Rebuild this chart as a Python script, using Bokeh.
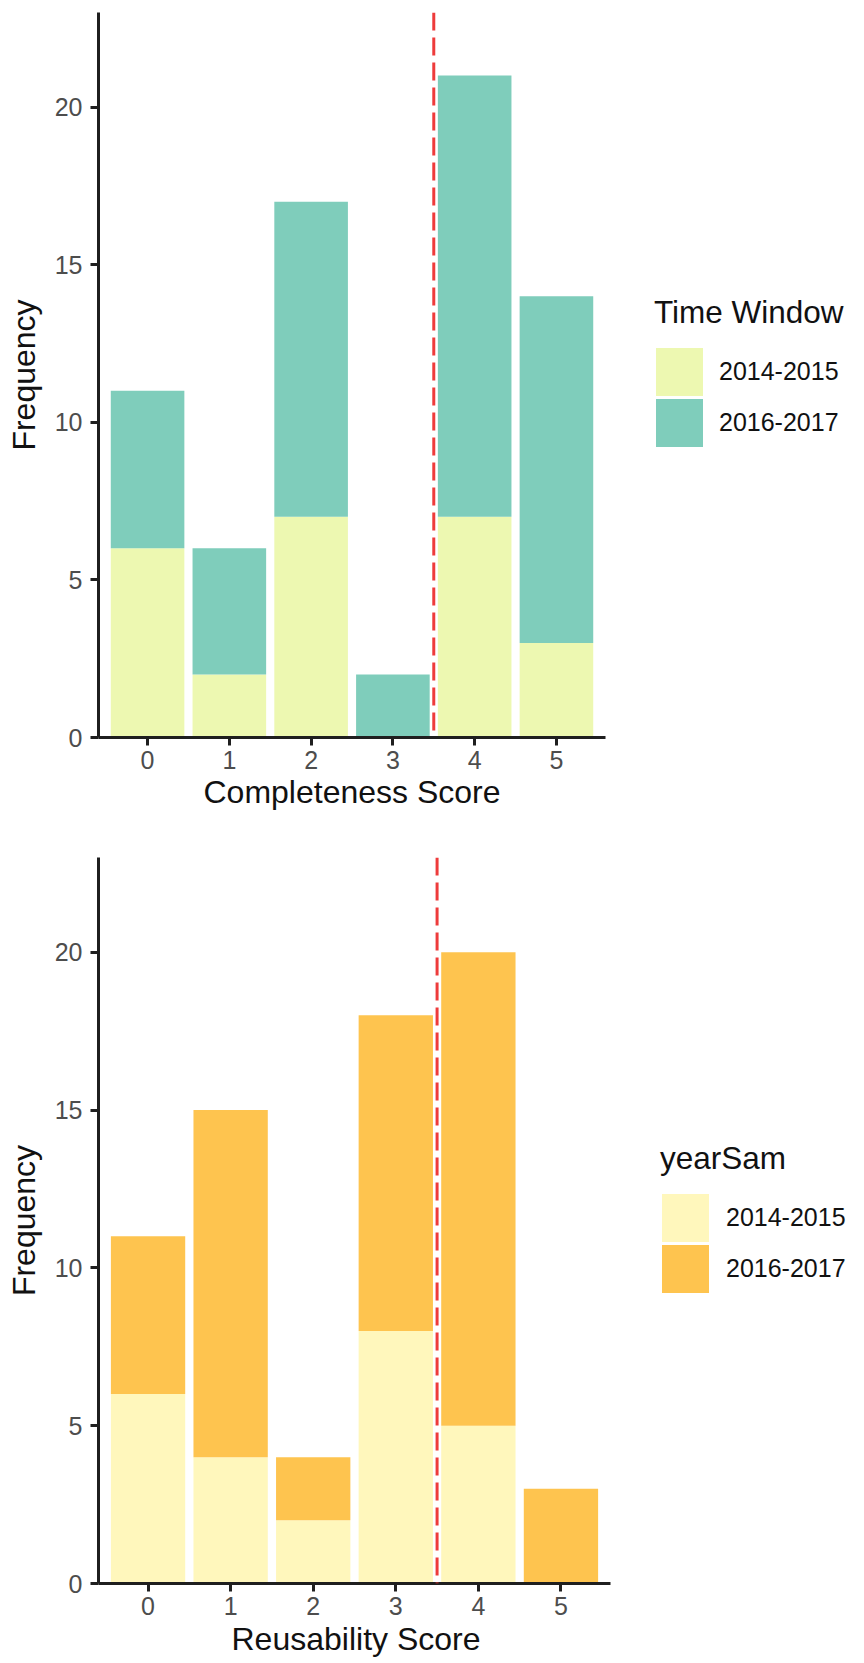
import numpy as np
from bokeh.plotting import figure
from bokeh.models import (Span, Legend, LegendItem, FixedTicker, Range1d,
                          ColumnDataSource, Title)
from bokeh.layouts import column
from bokeh.embed import file_html
from bokeh.resources import INLINE

# Scores on the x axis and the two sampling windows
scores = [0, 1, 2, 3, 4, 5]
periods = ["2014-2015", "2016-2017"]

# Completeness score counts per window
completeness_2014_2015 = [6, 2, 7, 0, 7, 3]
completeness_2016_2017 = [5, 4, 10, 2, 14, 11]

# Reusability score counts per window
reusability_2014_2015 = [6, 4, 2, 8, 5, 0]
reusability_2016_2017 = [5, 11, 2, 10, 15, 3]

y_ticks = [0, 5, 10, 15, 20]
threshold = 3.5

FONT = "Liberation Sans"
AXIS_COLOR = "#1f1f1f"
TEXT_COLOR = "#111111"
X_LO, X_HI = -0.6, 5.6   # discrete-axis padding around the six scores


def score_panel(early, late, colors, x_title, title_offset, title_standoff,
                legend_title, height, border_top, border_bottom, axis_px,
                legend_xy, label_gap):
    # the plotting area runs to the page edge so the legend can sit inside it;
    # the x axis itself is bounded to the score range
    frame_w = 864 - 98
    x_end = X_LO + frame_w * (X_HI - X_LO) / axis_px
    p = figure(width=864, height=height, output_backend="svg", toolbar_location=None,
               x_range=Range1d(X_LO, x_end), y_range=Range1d(0, 23),
               min_border_left=98, min_border_right=0,
               min_border_top=border_top, min_border_bottom=border_bottom,
               background_fill_color="white", border_fill_color="white")
    p.outline_line_color = None
    p.grid.visible = False

    total = [a + b for a, b in zip(early, late)]
    src = ColumnDataSource(dict(score=scores, early=early, total=total))

    p.vbar(x="score", bottom=0, top="early", width=0.9, source=src,
           fill_color=colors[0], line_color=None)
    p.vbar(x="score", bottom="early", top="total", width=0.9, source=src,
           fill_color=colors[1], line_color=None)

    # legend keys: same colours with a matching outline so the swatches are
    # large squares packed closely; NaN rows keep them out of the plot area
    blank = ColumnDataSource(dict(score=np.array([np.nan]), top=np.array([np.nan])))
    keys = [p.vbar(x="score", bottom=0, top="top", width=0.9, source=blank,
                   fill_color=c, line_color=c, line_width=7, line_join="miter")
            for c in colors]

    p.add_layout(Span(location=threshold, dimension="height", line_color="#EE3B3B",
                      line_width=3, line_dash="18 7"))

    for ax in (p.xaxis[0], p.yaxis[0]):
        ax.axis_line_width = 3
        ax.axis_line_color = AXIS_COLOR
        ax.major_tick_line_width = 3
        ax.major_tick_line_color = AXIS_COLOR
        ax.major_tick_out = 8
        ax.major_tick_in = 0
        ax.minor_tick_line_color = None
        ax.major_label_text_font = FONT
        ax.major_label_text_font_size = "25px"
        ax.major_label_text_color = "#4D4D4D"
        ax.axis_label_text_font = FONT
        ax.axis_label_text_font_size = "32px"
        ax.axis_label_text_font_style = "normal"
        ax.axis_label_text_color = TEXT_COLOR

    p.xaxis.bounds = (X_LO, X_HI)
    p.xaxis.ticker = FixedTicker(ticks=scores)
    p.yaxis.ticker = FixedTicker(ticks=y_ticks)
    p.yaxis.axis_label = "Frequency"
    p.xaxis.major_label_standoff = 5
    p.yaxis.major_label_standoff = 8
    p.yaxis.axis_label_standoff = 10

    # x-axis title, centred under the bounded axis
    p.add_layout(Title(text=x_title, align="left", offset=title_offset,
                       text_font=FONT, text_font_size="32px",
                       text_font_style="normal", text_color=TEXT_COLOR,
                       standoff=title_standoff), "below")

    legend = Legend(items=[LegendItem(label=periods[0], renderers=[keys[0]]),
                           LegendItem(label=periods[1], renderers=[keys[1]])],
                    location=legend_xy, title=legend_title,
                    title_text_font=FONT, title_text_font_size="31.5px",
                    title_text_font_style="normal", title_text_color=TEXT_COLOR,
                    title_standoff=15,
                    label_text_font=FONT, label_text_font_size="25px",
                    label_text_color=TEXT_COLOR, label_standoff=label_gap,
                    glyph_width=50, glyph_height=51, label_height=51,
                    spacing=0, padding=0, margin=0,
                    border_line_color=None, background_fill_alpha=0)
    p.add_layout(legend)
    return p


top = score_panel(completeness_2014_2015, completeness_2016_2017,
                  ["#EDF8B1", "#7FCDBB"], "Completeness Score", 105, 0, "Time Window",
                  height=832, border_top=12, border_bottom=95, axis_px=507,
                  legend_xy=(556, 289), label_gap=15)
bottom = score_panel(reusability_2014_2015, reusability_2016_2017,
                     ["#FFF7BC", "#FEC44F"], "Reusability Score", 133, 2, "yearSam",
                     height=831, border_top=25, border_bottom=80, axis_px=512,
                     legend_xy=(562, 289), label_gap=16)

page = column(top, bottom, spacing=0)
open("out.html", "w").write(file_html(page, INLINE))
